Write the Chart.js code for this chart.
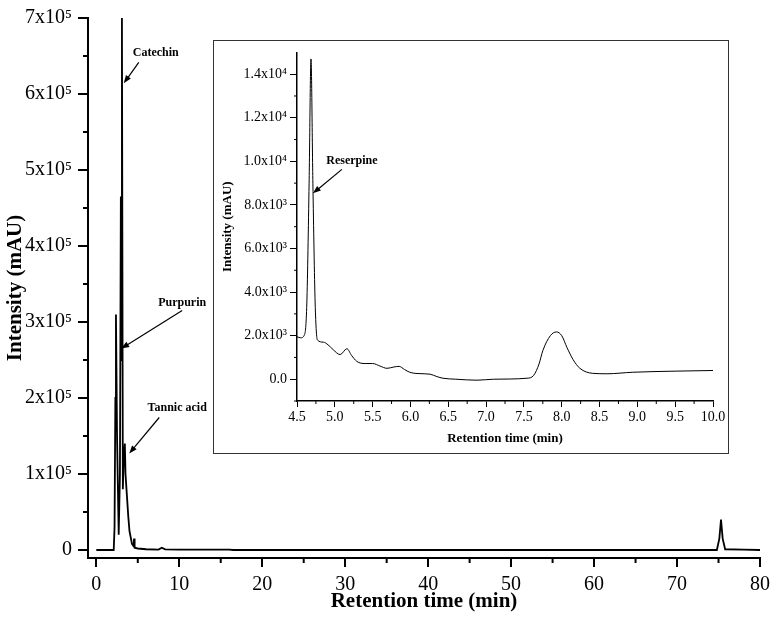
<!DOCTYPE html>
<html>
<head>
<meta charset="utf-8">
<script src="https://cdn.jsdelivr.net/npm/chart.js@4/dist/chart.umd.min.js"></script>
<style>
  html, body { margin: 0; padding: 0; background: #fff; }
  #wrap { position: relative; width: 776px; height: 619px; }
  #inset { position: absolute; left: 213px; top: 40px; width: 514px; height: 412px;
           border: 1px solid #333; background: #fff; }
</style>
</head>
<body>
<div id="wrap">
  <canvas id="mainChart" width="776" height="619"></canvas>
  <div id="inset"><canvas id="insetChart" width="514" height="412"></canvas></div>
</div>
<script>
// Main chromatogram (retention time in min, intensity in mAU)
const mainTimes = [0, 2.1, 2.2, 2.3, 2.37, 2.5, 2.7, 2.85, 2.96, 3.01, 3.09, 3.2, 3.3, 3.44, 3.52, 3.7, 3.85, 4.0, 4.3, 4.5, 4.55, 4.62, 5.0, 6.0, 7.5, 7.9, 8.3, 10, 16, 16.5, 74.8, 75.1, 75.3, 75.5, 75.8, 78, 80];
const mainIntensity = [0, 0, 30000, 200000, 310000, 150000, 20000, 100000, 465000, 250000, 700000, 80000, 120000, 140000, 100000, 70000, 45000, 25000, 8000, 5000, 15000, 3000, 2000, 1000, 500, 3000, 800, 500, 500, 0, 0, 15000, 40000, 15000, 1000, 500, 0];
const mainXTicks = [0, 10, 20, 30, 40, 50, 60, 70, 80];
const mainYTicks = [0, 100000, 200000, 300000, 400000, 500000, 600000, 700000];

// Inset: 4.5 - 10 min zoom
const insetTimes = [4.5, 4.55, 4.6, 4.63, 4.66, 4.685, 4.71, 4.74, 4.77, 4.85, 4.91, 4.98, 5.07, 5.16, 5.22, 5.29, 5.4, 5.5, 5.6, 5.69, 5.78, 5.85, 5.92, 5.99, 6.1, 6.26, 6.35, 6.43, 6.6, 6.88, 7.1, 7.54, 7.63, 7.7, 7.75, 7.85, 7.93, 8.0, 8.07, 8.15, 8.24, 8.41, 8.6, 8.94, 9.5, 10.0];
const insetIntensity = [1950, 1900, 2050, 3500, 9000, 14700, 9000, 3500, 1800, 1700, 1580, 1350, 1130, 1400, 1100, 820, 720, 720, 600, 500, 560, 590, 450, 320, 260, 230, 120, 45, 0, -45, 0, 45, 180, 700, 1310, 2000, 2170, 2000, 1450, 900, 500, 270, 250, 320, 370, 400];
const insetXTicks = [4.5, 5.0, 5.5, 6.0, 6.5, 7.0, 7.5, 8.0, 8.5, 9.0, 9.5, 10.0];
const insetYTicks = [0, 2000, 4000, 6000, 8000, 10000, 12000, 14000];

const serif = "'Liberation Serif', 'Times New Roman', serif";

// short minor ticks between the major ones + labelled arrows
const extras = {
  id: 'extras',
  afterDraw(chart, args, opts) {
    const ctx = chart.ctx;
    const xs = chart.scales.x, ys = chart.scales.y;
    ctx.save();
    ctx.strokeStyle = '#000';
    ctx.lineWidth = opts.tickWidth;
    opts.xMinor.forEach(v => {
      const px = xs.getPixelForValue(v);
      ctx.beginPath();
      ctx.moveTo(px, xs.top);
      ctx.lineTo(px, xs.top + opts.minorLen);
      ctx.stroke();
    });
    opts.yMinor.forEach(v => {
      const py = ys.getPixelForValue(v);
      ctx.beginPath();
      ctx.moveTo(ys.right, py);
      ctx.lineTo(ys.right - opts.minorLen, py);
      ctx.stroke();
    });
    // annotations
    ctx.fillStyle = '#000';
    ctx.font = 'bold 12px ' + serif;
    ctx.textAlign = 'center';
    ctx.textBaseline = 'middle';
    ctx.lineWidth = 1.2;
    opts.notes.forEach(n => {
      const hx = xs.getPixelForValue(n.x), hy = ys.getPixelForValue(n.y);
      const tx = hx + n.tail[0], ty = hy + n.tail[1];
      ctx.fillText(n.text, hx + n.label[0], hy + n.label[1]);
      const ang = Math.atan2(hy - ty, hx - tx);
      ctx.beginPath();
      ctx.moveTo(tx, ty);
      ctx.lineTo(hx - 5 * Math.cos(ang), hy - 5 * Math.sin(ang));
      ctx.stroke();
      ctx.beginPath();
      ctx.moveTo(hx, hy);
      ctx.lineTo(hx - 8 * Math.cos(ang) + 3 * Math.sin(ang), hy - 8 * Math.sin(ang) - 3 * Math.cos(ang));
      ctx.lineTo(hx - 8 * Math.cos(ang) - 3 * Math.sin(ang), hy - 8 * Math.sin(ang) + 3 * Math.cos(ang));
      ctx.closePath();
      ctx.fill();
    });
    ctx.restore();
  }
};

function sup(n) {
  return { 3: '\u00b3', 4: '\u2074', 5: '\u2075' }[n];
}

// Main chart
new Chart(document.getElementById('mainChart'), {
  type: 'line',
  data: {
    datasets: [{
      data: mainTimes.map((t, i) => ({ x: t, y: mainIntensity[i] })),
      borderColor: '#000',
      borderWidth: 1.8,
      pointRadius: 0,
      tension: 0
    }]
  },
  options: {
    responsive: false,
    animation: false,
    layout: { padding: { top: 17, right: 12, left: 0, bottom: 0 } },
    plugins: {
      legend: { display: false },
      tooltip: { enabled: false },
      extras: {
        tickWidth: 2, minorLen: 5,
        xMinor: [5, 15, 25, 35, 45, 55, 65, 75],
        yMinor: [50000, 150000, 250000, 350000, 450000, 550000, 650000],
        notes: [
          { text: 'Catechin', x: 3.31, y: 614000, tail: [15, -21], label: [32, -30] },
          { text: 'Purpurin', x: 3.0, y: 265000, tail: [61, -38], label: [61, -46] },
          { text: 'Tannic acid', x: 3.97, y: 127000, tail: [30, -36], label: [48, -46] }
        ]
      }
    },
    scales: {
      x: {
        type: 'linear', min: -1, max: 80,
        afterBuildTicks: s => { s.ticks = mainXTicks.map(v => ({ value: v })); },
        afterFit: s => { s.height = 61; },
        border: { display: true, color: '#000', width: 2 },
        grid: { drawOnChartArea: false, color: '#000', lineWidth: 2, tickLength: 9 },
        ticks: { color: '#000', font: { family: serif, size: 20 }, padding: 6, maxRotation: 0 },
        title: { display: true, text: 'Retention time (min)', color: '#000',
                 font: { family: serif, size: 21, weight: 'bold' }, padding: { top: 0, bottom: 5 } }
      },
      y: {
        type: 'linear', min: -10500, max: 700000,
        afterBuildTicks: s => { s.ticks = mainYTicks.map(v => ({ value: v })); },
        afterFit: s => { s.width = 88; },
        border: { display: true, color: '#000', width: 2 },
        grid: { drawOnChartArea: false, color: '#000', lineWidth: 2, tickLength: 10 },
        ticks: { color: '#000', font: { family: serif, size: 20 }, padding: 6,
                 callback: v => v === 0 ? '0' : (v / 100000) + 'x10' + sup(5) },
        title: { display: true, text: 'Intensity (mAU)', color: '#000',
                 font: { family: serif, size: 21, weight: 'bold' }, padding: { top: 3, bottom: 0 } }
      }
    }
  },
  plugins: [extras]
});

// Inset chart
new Chart(document.getElementById('insetChart'), {
  type: 'line',
  data: {
    datasets: [{
      data: insetTimes.map((t, i) => ({ x: t, y: insetIntensity[i] })),
      borderColor: '#000',
      borderWidth: 1,
      pointRadius: 0,
      tension: 0.3,
      cubicInterpolationMode: 'monotone'
    }]
  },
  options: {
    responsive: false,
    animation: false,
    layout: { padding: { top: 7, right: 15, left: 0, bottom: 0 } },
    plugins: {
      legend: { display: false },
      tooltip: { enabled: false },
      extras: {
        tickWidth: 1, minorLen: 3,
        xMinor: [4.75, 5.25, 5.75, 6.25, 6.75, 7.25, 7.75, 8.25, 8.75, 9.25, 9.75],
        yMinor: [-1000, 1000, 3000, 5000, 7000, 9000, 11000, 13000],
        notes: [
          { text: 'Reserpine', x: 4.71, y: 8530, tail: [29, -24], label: [39, -32] }
        ]
      }
    },
    scales: {
      x: {
        type: 'linear', min: 4.5, max: 10,
        afterBuildTicks: s => { s.ticks = insetXTicks.map(v => ({ value: v })); },
        afterFit: s => { s.height = 52; },
        border: { display: true, color: '#000', width: 1.5 },
        grid: { drawOnChartArea: false, color: '#000', lineWidth: 1, tickLength: 6 },
        ticks: { color: '#000', font: { family: serif, size: 14 }, padding: 2, maxRotation: 0,
                 callback: v => v.toFixed(1) },
        title: { display: true, text: 'Retention time (min)', color: '#000',
                 font: { family: serif, size: 13, weight: 'bold' }, padding: { top: 0, bottom: 7 } }
      },
      y: {
        type: 'linear', min: -1000, max: 15000,
        afterBuildTicks: s => { s.ticks = insetYTicks.map(v => ({ value: v })); },
        afterFit: s => { s.width = 83; },
        border: { display: true, color: '#000', width: 1.5 },
        grid: { drawOnChartArea: false, color: '#000', lineWidth: 1, tickLength: 7 },
        ticks: { color: '#000', font: { family: serif, size: 14 }, padding: 3,
                 callback: v => v === 0 ? '0.0' : v >= 10000
                   ? (v / 10000).toFixed(1) + 'x10' + sup(4)
                   : (v / 1000).toFixed(1) + 'x10' + sup(3) },
        title: { display: true, text: 'Intensity (mAU)', color: '#000',
                 font: { family: serif, size: 13, weight: 'bold' }, padding: { top: 6, bottom: 0 } }
      }
    }
  },
  plugins: [extras]
});
</script>
</body>
</html>
